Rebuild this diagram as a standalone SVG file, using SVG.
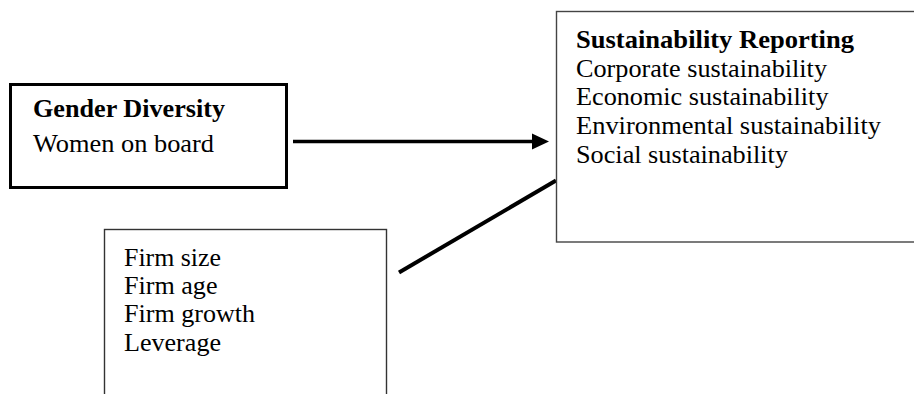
<svg xmlns="http://www.w3.org/2000/svg" width="914" height="394" viewBox="0 0 914 394">
<style>
text{font-family:"Liberation Serif","Times New Roman",serif;font-size:26px;fill:#000}
.b{font-weight:bold}
.box{fill:#fff}
</style>
<rect width="914" height="394" fill="#fff"/>
<g id="connectors">
<line x1="293" y1="141.5" x2="536" y2="141.5" stroke="#000" stroke-width="3.5"/>
<polygon points="532,133.5 549,141.5 532,149.5" fill="#000"/>
<line x1="399" y1="272.5" x2="556" y2="180.5" stroke="#000" stroke-width="4"/>
</g>
<g id="gender">
<rect class="box" x="10.5" y="84.5" width="276" height="103" stroke="#000" stroke-width="3"/>
<text class="b" x="33" y="117" textLength="192" lengthAdjust="spacingAndGlyphs">Gender Diversity</text>
<text x="33" y="152" textLength="181" lengthAdjust="spacingAndGlyphs">Women on board</text>
</g>
<g id="sustainability">
<rect class="box" x="556.5" y="11.5" width="380" height="230.5" stroke="#444" stroke-width="1.4"/>
<text class="b" x="576" y="47.5" textLength="278" lengthAdjust="spacingAndGlyphs">Sustainability Reporting</text>
<text x="576" y="76.5" textLength="251" lengthAdjust="spacingAndGlyphs">Corporate sustainability</text>
<text x="576" y="105" textLength="252.5" lengthAdjust="spacingAndGlyphs">Economic sustainability</text>
<text x="576" y="133.5" textLength="305" lengthAdjust="spacingAndGlyphs">Environmental sustainability</text>
<text x="576" y="162.5" textLength="212" lengthAdjust="spacingAndGlyphs">Social sustainability</text>
</g>
<g id="controls">
<rect class="box" x="104.5" y="229.5" width="282" height="200" stroke="#333" stroke-width="1.4"/>
<text x="124" y="265.5" textLength="97" lengthAdjust="spacingAndGlyphs">Firm size</text>
<text x="124" y="294" textLength="93.5" lengthAdjust="spacingAndGlyphs">Firm age</text>
<text x="124" y="322" textLength="131" lengthAdjust="spacingAndGlyphs">Firm growth</text>
<text x="124" y="350.5" textLength="97" lengthAdjust="spacingAndGlyphs">Leverage</text>
</g>
</svg>
